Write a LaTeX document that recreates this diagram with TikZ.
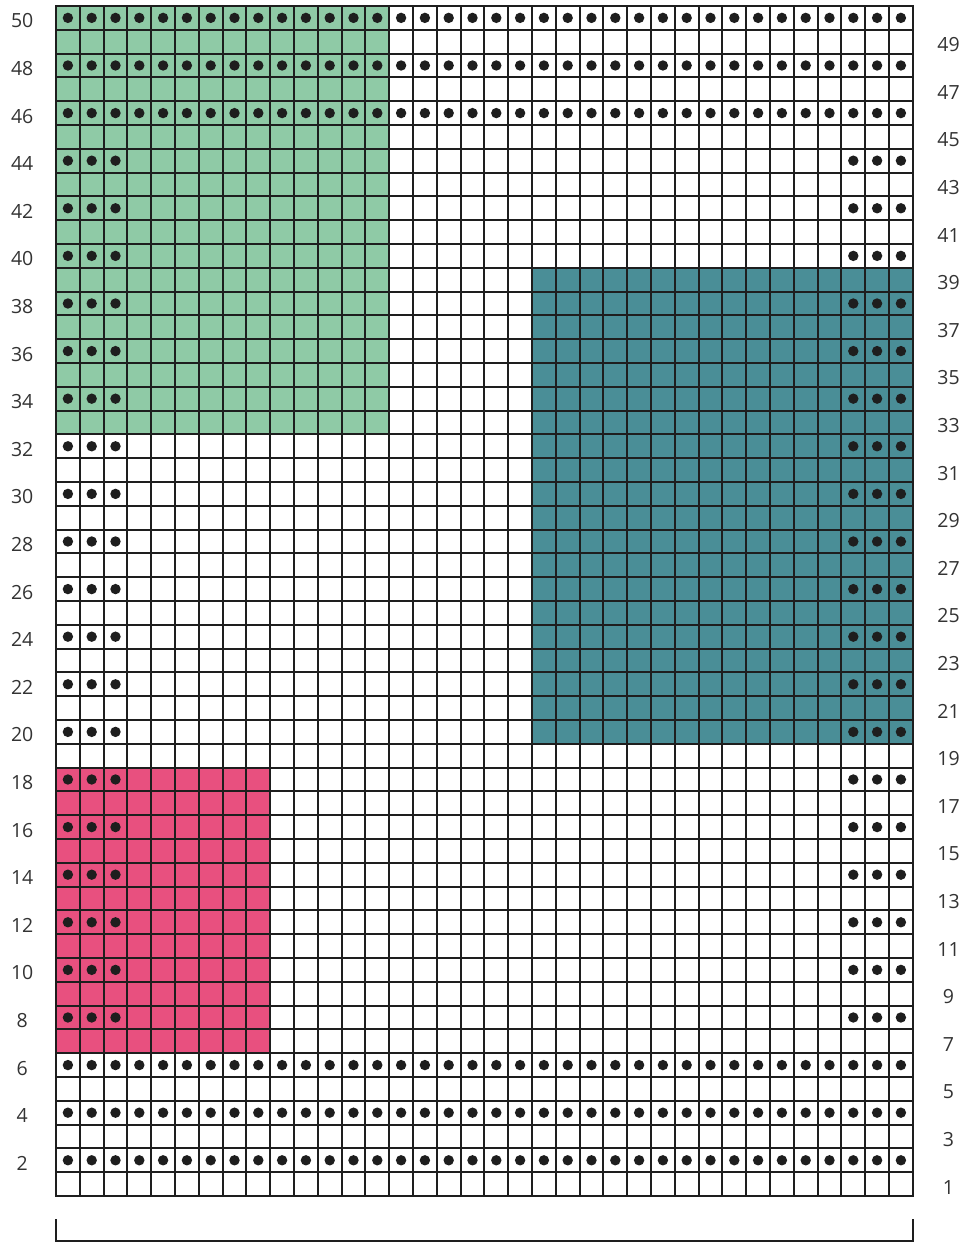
\documentclass[tikz,border=0pt]{standalone}
\usepackage{fontspec}
\setmainfont{Open Sans}
\definecolor{gridline}{HTML}{1E1E1E}
\definecolor{greenblock}{HTML}{8FCAA6}
\definecolor{tealblock}{HTML}{4A8E97}
\definecolor{pinkblock}{HTML}{E8507F}
\definecolor{labelgray}{HTML}{333333}
\begin{document}
\begin{tikzpicture}[x=23.8pt,y=23.8pt,
  gridlines/.style={draw=gridline,line width=2pt},
  stitchdot/.style={fill=gridline},
  rowlabel/.style={font=\fontsize{19.5}{20}\selectfont,text=labelgray,inner sep=0pt},
  bracketline/.style={draw=gridline,line width=2pt}]
\useasboundingbox[fill=white] (-2.353,-1.975) rectangle (38.235,50.252);
% colour blocks
\fill[greenblock] (0,32) rectangle (14,50);
\fill[tealblock] (20,19) rectangle (36,39);
\fill[pinkblock] (0,6) rectangle (9,18);
% grid
\draw[gridlines,line cap=rect,step=1] (0,0) grid (36,50);
% dots: full rows
\foreach \r in {2,4,6,46,48,50}{
  \foreach \c in {1,...,36}{
    \fill[stitchdot] (\c-0.5,\r-0.5) circle (5.2pt);
  }
}
% dots: side columns
\foreach \r in {8,10,...,44}{
  \foreach \c in {1,2,3,34,35,36}{
    \fill[stitchdot] (\c-0.5,\r-0.5) circle (5.2pt);
  }
}
% row labels
\foreach \r in {2,4,...,50}{
  \node[rowlabel] (L\r) at (-1.42,\r-0.63) {\r};
}
\foreach \r in {1,3,...,49}{
  \node[rowlabel] (R\r) at (37.5,\r-0.63) {\r};
}
% bracket
\coordinate (bl) at (0,-0.97);
\coordinate (br) at (36,-0.97);
\draw[bracketline] (bl) -- (0,-1.89) -- (36,-1.89) -- (br);
\end{tikzpicture}
\end{document}
